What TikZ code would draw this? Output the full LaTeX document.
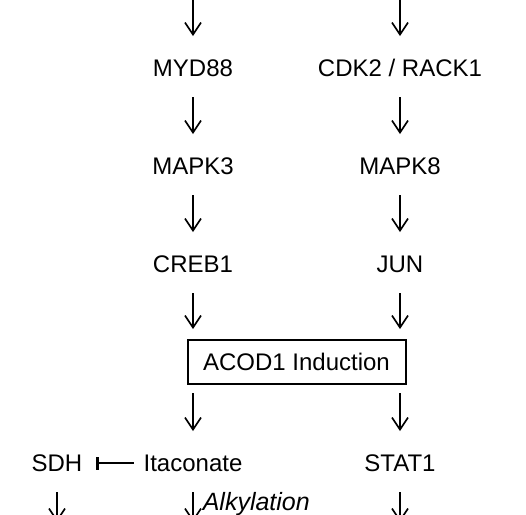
\documentclass[tikz,border=0pt]{standalone}
\usepackage{fontspec}
\setmainfont{Liberation Sans}
\usetikzlibrary{arrows.meta, positioning}

\tikzset{
    gene/.style={text height=8.6pt, text depth=0pt, inner ysep=10pt, font=\fontsize{12}{14}\selectfont},
    induct/.style={gene, draw, line width=1pt, inner ysep=6.7pt, minimum width=109pt},
    act/.style={-{Straight Barb[length=6pt, width=8pt]}, line width=0.8pt, shorten >=1.5pt},
    inhib/.style={-{Bar[width=6.5pt, line width=1.4pt]}, line width=1.1pt, shorten <=1.5pt, shorten >=3.5pt}
}

\begin{document}
\begin{tikzpicture}[x=0.5pt, y=-0.5pt, node distance=49pt and 103.5pt, on grid, auto]
    \useasboundingbox (0,0) rectangle (526,515);
    \clip (0,0) rectangle (526,515);

    \node[gene] (MYD) at (193,68) {MYD88};
    \node[gene] (CDK) [right=of MYD] {CDK2 / RACK1};
    \node[gene] (MAPKt) [below=of MYD] {MAPK3};
    \node[gene] (MAPKe) [below=of CDK] {MAPK8};
    \node[gene] (CREB) [below=of MAPKt] {CREB1};
    \node[gene] (JUN) [below=of MAPKe] {JUN};
    \node[induct] (ACOD) [below right=49pt and 51.75pt of CREB] {ACOD1 Induction};
    \node[gene] (ITA) [below=99.5pt of CREB] {Itaconate};
    \node[gene] (STAT) [below=99.5pt of JUN] {STAT1};
    \node[gene] (SDH) [left=68pt of ITA] {SDH};

    % loose ends above and below the cut
    \coordinate (inL) at (193,-20);
    \coordinate (inR) at (400,-20);
    \coordinate (outS) at (57,525);
    \coordinate (outI) at (193,525);
    \coordinate (outT) at (400,525);

    \path[act]
    (inL) edge (MYD)
    (inR) edge (CDK)
    (MYD) edge (MAPKt)
    (CDK) edge (MAPKe)
    (MAPKt) edge (CREB)
    (MAPKe) edge (JUN)
    (CREB) edge[shorten >=5pt] (CREB |- ACOD.north)
    (JUN) edge[shorten >=5pt] (JUN |- ACOD.north)
    (ACOD.south -| CREB) edge[shorten <=4pt] (ITA)
    (ACOD.south -| JUN) edge[shorten <=4pt] (STAT)
    (SDH) edge (outS)
    (ITA) edge node[pos=0.36, right, inner xsep=4.5pt, font=\fontsize{12.5}{14}\selectfont\itshape] {Alkylation} (outI)
    (STAT) edge (outT);

    \path[inhib] (ITA) edge (SDH);
\end{tikzpicture}
\end{document}
